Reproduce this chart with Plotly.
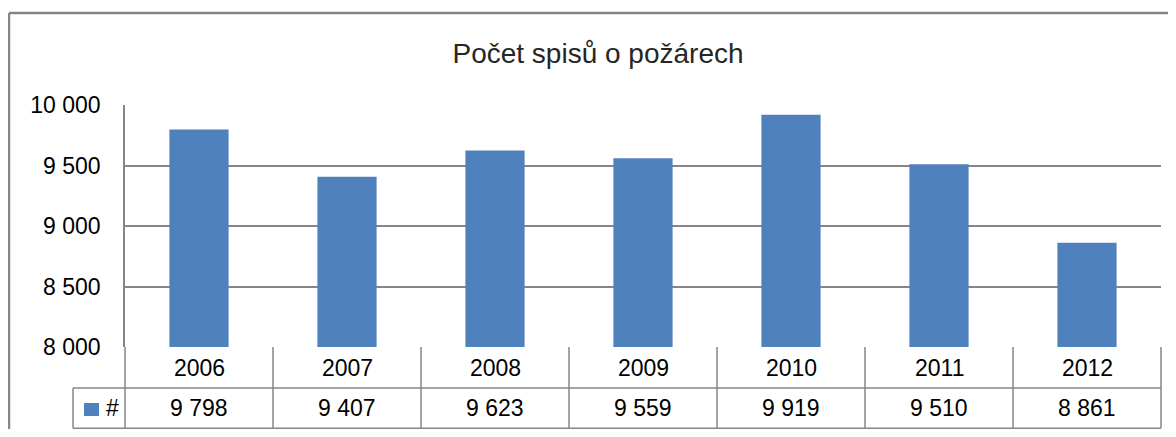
import plotly.graph_objects as go

# ---- data ----
years = ["2006", "2007", "2008", "2009", "2010", "2011", "2012"]
values = [9798, 9407, 9623, 9559, 9919, 9510, 8861]
value_labels = ["9 798", "9 407", "9 623", "9 559", "9 919", "9 510", "8 861"]
tick_vals = [8000, 8500, 9000, 9500, 10000]
tick_text = ["8 000", "8 500", "9 000", "9 500", "10 000"]
series_name = "#"
title_text = "Počet spisů o požárech"

# ---- layout geometry (reference pixels; page body adds an 8px margin) ----
OFF = 8
W, H = 1176 - 2 * OFF, 437 - 2 * OFF
L, R, T, B = 125, 1161, 105, 347
PW, PH = R - L, B - T
GRID = "#868686"
BAR = "#4F81BD"
FONT = "Liberation Sans"


def px(x):
    return (x - L) / PW


def py(y):
    return (B - y) / PH


row1_bot = 388
row2_bot = 428.3
legend_left = 73

fig = go.Figure()
fig.add_trace(go.Bar(
    x=years, y=values, marker=dict(color=BAR, line=dict(width=0)),
    width=0.4, name=series_name, showlegend=False, hoverinfo="x+y",
))

shapes = []
n = len(years)
# table column separators follow the category bands (one band per year)
for i in range(n + 1):
    shapes.append(dict(type="line", xref="paper", yref="paper",
                       x0=i / n, x1=i / n, y0=py(B), y1=py(row2_bot),
                       line=dict(color=GRID, width=1.5)))
for yy in (row1_bot, row2_bot):
    shapes.append(dict(type="line", xref="paper", yref="paper",
                       x0=px(legend_left), x1=1, y0=py(yy), y1=py(yy),
                       line=dict(color=GRID, width=1.5)))
shapes.append(dict(type="line", xref="paper", yref="paper",
                   x0=px(legend_left), x1=px(legend_left), y0=py(row1_bot), y1=py(row2_bot),
                   line=dict(color=GRID, width=1.5)))
shapes.append(dict(type="rect", xref="paper", yref="paper",
                   x0=px(84), x1=px(99), y0=py(416), y1=py(403),
                   fillcolor=BAR, line=dict(width=0)))
# outer chart border (clipped at right/bottom)
shapes.append(dict(type="line", xref="paper", yref="paper",
                   x0=px(9), x1=px(9), y0=py(13), y1=py(440),
                   line=dict(color=GRID, width=2.5)))
shapes.append(dict(type="line", xref="paper", yref="paper",
                   x0=px(9), x1=px(1180), y0=py(13), y1=py(13),
                   line=dict(color=GRID, width=2.5)))

annotations = []
for i, (yr, vl) in enumerate(zip(years, value_labels)):
    annotations.append(dict(x=i, xref="x", yref="paper", y=py((B + row1_bot) / 2),
                            text=yr, showarrow=False, xanchor="center", yanchor="middle",
                            font=dict(family=FONT, size=23, color="#000")))
    annotations.append(dict(x=i, xref="x", yref="paper", y=py((row1_bot + 429) / 2),
                            text=vl, showarrow=False, xanchor="center", yanchor="middle",
                            font=dict(family=FONT, size=23, color="#000")))
annotations.append(dict(x=px(104), xref="paper", yref="paper", y=py((row1_bot + 429) / 2),
                        text=series_name, showarrow=False, xanchor="left", yanchor="middle",
                        font=dict(family=FONT, size=23, color="#000")))

fig.update_layout(
    width=W, height=H,
    margin=dict(l=L - OFF, r=(1176 - OFF) - R, t=T - OFF, b=(437 - OFF) - B, pad=0),
    paper_bgcolor="white", plot_bgcolor="white",
    title=dict(text=title_text, x=(598 - OFF) / W, y=1 - (53 - OFF) / H,
               xref="container", yref="container",
               xanchor="center", yanchor="middle",
               font=dict(family=FONT, size=28, color="#262626")),
    xaxis=dict(type="category", showticklabels=False, showgrid=False, zeroline=False,
               showline=False, range=[-0.5, n - 0.5], fixedrange=True),
    yaxis=dict(range=[8000, 10000], tickvals=tick_vals, ticktext=tick_text,
               showgrid=True, gridcolor=GRID, gridwidth=1.5, zeroline=False,
               showline=True, linecolor=GRID, linewidth=1.5,
               ticks="", ticklabelstandoff=18,
               tickfont=dict(family=FONT, size=23, color="#000")),
    shapes=shapes, annotations=annotations, bargap=0.6,
)

fig.write_html("out.html")
